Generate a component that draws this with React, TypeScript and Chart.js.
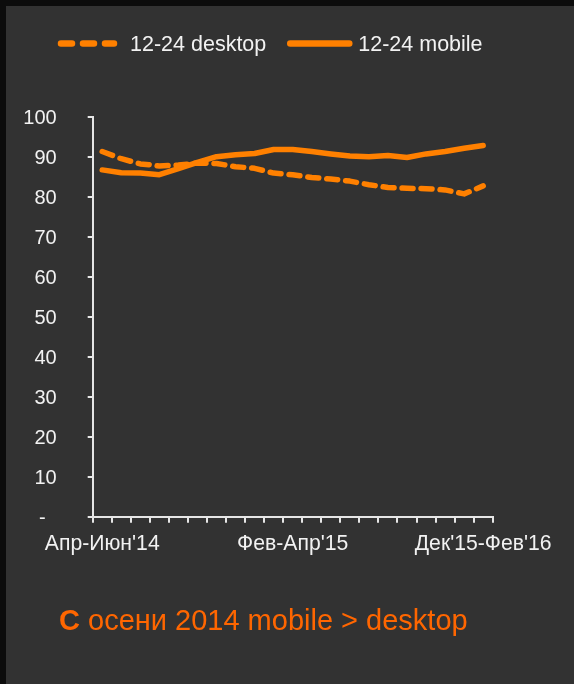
import React, { useEffect, useRef } from 'react';
import { Chart, registerables } from 'chart.js';

Chart.register(...registerables);

// ---- data ----
const categories = [
  "Апр-Июн'14", "Май-Июл'14", "Июн-Авг'14", "Июл-Сен'14", "Авг-Окт'14", "Сен-Ноя'14",
  "Окт-Дек'14", "Ноя'14-Янв'15", "Дек'14-Фев'15", "Янв-Мар'15", "Фев-Апр'15", "Мар-Май'15",
  "Апр-Июн'15", "Май-Июл'15", "Июн-Авг'15", "Июл-Сен'15", "Авг-Окт'15", "Сен-Ноя'15",
  "Окт-Дек'15", "Ноя'15-Янв'16", "Дек'15-Фев'16",
];
const shownCategoryLabels = ["Апр-Июн'14", "Фев-Апр'15", "Дек'15-Фев'16"];

const desktop = [
  91.3, 89.5, 88.2, 87.7, 87.9, 88.4, 88.3, 87.5, 87.1, 85.9, 85.5,
  84.8, 84.4, 83.9, 83.0, 82.3, 82.1, 82.0, 81.7, 80.7, 82.7,
];
const mobile = [
  86.7, 86.0, 85.9, 85.5, 87.0, 88.6, 90.0, 90.5, 90.8, 91.8, 91.8,
  91.3, 90.7, 90.2, 90.0, 90.3, 89.8, 90.7, 91.3, 92.1, 92.8,
];
const seriesNames = ['12-24 desktop', '12-24 mobile'];
const yTicks = [0, 10, 20, 30, 40, 50, 60, 70, 80, 90, 100];
const zeroTickLabel = '-  ';
const captionBold = 'С';
const captionRest = ' осени 2014 mobile > desktop';

// ---- styles ----
const W = 574;
const H = 684;
const ORANGE = '#ff8000';
const CAPTION_COLOR = '#ff6600';
const TEXT = '#f2f2f2';
const AXIS = '#e6e6e6';
const FONT = '"Liberation Sans", Arial, sans-serif';
const LEGEND_X = 58;
const LEGEND_LINE_Y = 43.5;
const LEGEND_TEXT_Y = 45;
const LEGEND_SAMPLE = [59, 65];
const LEGEND_GAP = [13, 6];
const LEGEND_SPACING = 21;
const LEGEND_DASH = [[11, 11], []];

const legendPlugin = {
  id: 'customLegend',
  afterDraw(chart: any) {
    const ctx = chart.ctx as CanvasRenderingContext2D;
    ctx.save();
    ctx.font = `21.5px ${FONT}`;
    ctx.textBaseline = 'middle';
    ctx.textAlign = 'left';
    let x = LEGEND_X;
    chart.data.datasets.forEach((ds: any, i: number) => {
      const len = LEGEND_SAMPLE[i];
      ctx.strokeStyle = ds.borderColor;
      ctx.lineWidth = 6.5;
      ctx.lineCap = 'round';
      ctx.setLineDash(LEGEND_DASH[i]);
      ctx.beginPath();
      ctx.moveTo(x + 3, LEGEND_LINE_Y);
      ctx.lineTo(x + len - 3, LEGEND_LINE_Y);
      ctx.stroke();
      ctx.setLineDash([]);
      x += len + LEGEND_GAP[i];
      ctx.fillStyle = TEXT;
      ctx.fillText(ds.label, x, LEGEND_TEXT_Y);
      x += ctx.measureText(ds.label).width + LEGEND_SPACING;
    });
    ctx.restore();
  },
};

export default function App() {
  const ref = useRef<HTMLCanvasElement | null>(null);

  useEffect(() => {
    if (!ref.current) return;
    const chart = new Chart(ref.current, {
      type: 'line',
      data: {
        labels: categories,
        datasets: [
          {
            label: seriesNames[0],
            data: desktop,
            borderColor: ORANGE,
            backgroundColor: ORANGE,
            borderWidth: 5.5,
            borderDash: [11, 8],
            borderCapStyle: 'round',
            borderJoinStyle: 'round',
            pointRadius: 0,
            tension: 0,
          },
          {
            label: seriesNames[1],
            data: mobile,
            borderColor: ORANGE,
            backgroundColor: ORANGE,
            borderWidth: 5.5,
            borderCapStyle: 'round',
            borderJoinStyle: 'round',
            pointRadius: 0,
            tension: 0,
          },
        ],
      },
      options: {
        responsive: false,
        animation: false,
        layout: { padding: { top: 116.7, right: 81.3, bottom: 127.3, left: 0 } },
        plugins: { legend: { display: false }, tooltip: { enabled: false } },
        scales: {
          x: {
            offset: true,
            afterFit: (s: any) => { s.height = 40; },
            grid: {
              offset: true,
              drawOnChartArea: false,
              drawTicks: true,
              tickLength: 6,
              color: AXIS,
              lineWidth: 2,
            },
            border: { display: true, color: AXIS, width: 2 },
            ticks: {
              autoSkip: false,
              maxRotation: 0,
              minRotation: 0,
              padding: 9,
              color: TEXT,
              font: { family: FONT, size: 21.2 },
              callback: (_v: any, i: number) =>
                shownCategoryLabels.includes(categories[i]) ? categories[i] : '',
            },
          },
          y: {
            min: yTicks[0],
            max: yTicks[yTicks.length - 1],
            afterFit: (s: any) => { s.width = 92.7; },
            afterBuildTicks: (s: any) => { s.ticks = yTicks.map((v) => ({ value: v })); },
            grid: {
              drawOnChartArea: false,
              drawTicks: true,
              tickLength: 5,
              color: AXIS,
              lineWidth: 2,
            },
            border: { display: true, color: AXIS, width: 2 },
            ticks: {
              padding: 31,
              labelOffset: 2,
              color: TEXT,
              font: { family: FONT, size: 20 },
              callback: (v: any) => (v === 0 ? zeroTickLabel : String(v)),
            },
          },
        },
      },
      plugins: [legendPlugin],
    } as any);
    return () => chart.destroy();
  }, []);

  return (
    <div style={{ position: 'fixed', left: 0, top: 0, width: W, height: H, background: '#0c0c0c', overflow: 'hidden' }}>
      <div style={{ position: 'absolute', left: 6, top: 6, right: 0, bottom: 0, background: '#323232' }} />
      <canvas ref={ref} width={W} height={H} style={{ position: 'absolute', left: 0, top: 0, width: W, height: H }} />
      <div
        style={{
          position: 'absolute',
          left: 59,
          top: 606,
          font: `29px ${FONT}`,
          lineHeight: '29px',
          color: CAPTION_COLOR,
          whiteSpace: 'nowrap',
        }}
      >
        <b>{captionBold}</b>{captionRest}
      </div>
    </div>
  );
}
